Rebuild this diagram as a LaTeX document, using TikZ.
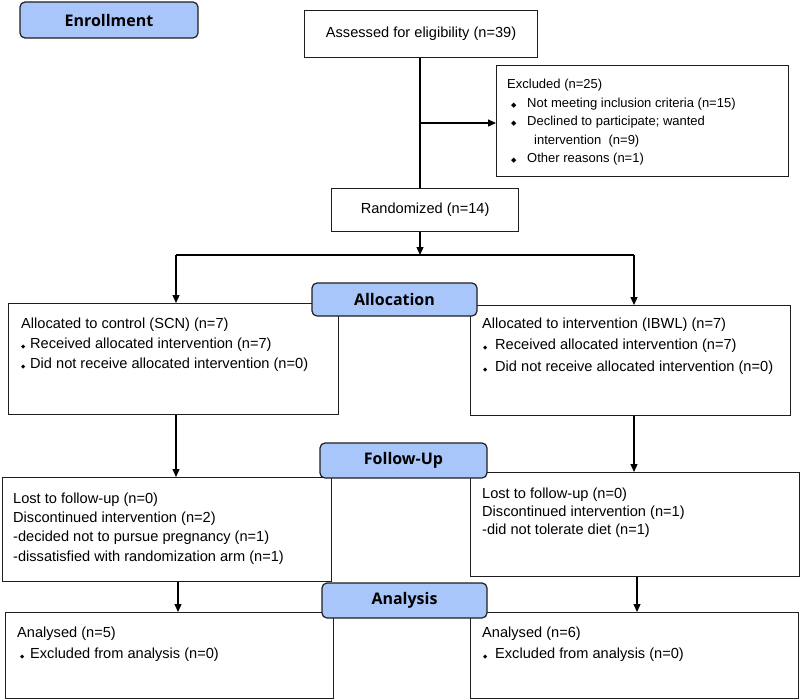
\documentclass[tikz,border=0pt]{standalone}
\usepackage{fontspec}
\setmainfont{Liberation Sans}
\newfontfamily\hdrfont{Open Sans}
\newfontfamily\symfont{DejaVu Sans}
\usetikzlibrary{arrows.meta}
\definecolor{hdrfill}{RGB}{169,198,250}
\definecolor{edge}{RGB}{30,30,30}
\newcommand\dia[1]{{\symfont\fontsize{#1}{#1}\selectfont ◆}}
\newcommand\bodysz[1]{\fontsize{14.6}{#1}\selectfont}
\begin{document}
\begin{tikzpicture}[x=1pt,y=-1pt,
  box/.style={draw=edge, line width=1.2pt, fill=white, anchor=north west, inner sep=0pt, font=\bodysz{20}},
  hdr/.style={draw=edge, line width=1.2pt, fill=hdrfill, rounded corners=5pt, inner sep=0pt, font=\hdrfont\bfseries\fontsize{16}{19}\selectfont},
  txt/.style={anchor=base west, inner sep=0pt, align=left},
  arr/.style={draw=black, line width=1.2pt, -{Triangle[length=8pt,width=7pt]}},
  conn/.style={draw=black, line width=1.2pt}]
\useasboundingbox (0,0) rectangle (800,699);

% ---------- boxes ----------
\node[box, minimum width=233pt, minimum height=47pt] (assess) at (304,10) {Assessed for eligibility (n=39)};
\node[box, minimum width=292pt, minimum height=111pt] (excl) at (496,65) {};
\node[box, minimum width=187pt, minimum height=43pt] (rand) at (331,188) {Randomized (n=14)};

\node[box, minimum width=330pt, minimum height=111pt] (allocL) at (8,303) {};
\node[box, minimum width=320pt, minimum height=110pt] (allocR) at (470,305) {};

\node[box, minimum width=329pt, minimum height=104pt] (fuL) at (2,477) {};
\node[box, minimum width=329pt, minimum height=104pt] (fuR) at (470,472) {};

\node[box, minimum width=328pt, minimum height=86pt] (anL) at (5,612) {};
\node[box, minimum width=328pt, minimum height=86pt] (anR) at (470,612) {};

% ---------- texts (anchored at the baseline of their last line) ----------
\node[txt, font=\fontsize{13}{18.6}\selectfont] (exclt) at (507,162.9)
 {Excluded (n=25)\\
  \hspace*{4pt}\makebox[16pt][l]{\dia{7}}Not meeting inclusion criteria (n=15)\\
  \hspace*{4pt}\makebox[16pt][l]{\dia{7}}Declined to participate; wanted\\
  \hspace*{27pt}intervention\ \ (n=9)\\
  \hspace*{4pt}\makebox[16pt][l]{\dia{7}}Other reasons (n=1)};

\node[txt, font=\bodysz{20}] (allocLt) at (21,368)
 {Allocated to control (SCN) (n=7)\\
  \makebox[9pt][l]{\dia{5.5}}Received allocated intervention (n=7)\\
  \makebox[9pt][l]{\dia{5.5}}Did not receive allocated intervention (n=0)};
\node[txt, font=\bodysz{21.5}] (allocRt) at (482,371)
 {Allocated to intervention (IBWL) (n=7)\\
  \hspace*{1pt}\makebox[12pt][l]{\dia{5.5}}Received allocated intervention (n=7)\\
  \hspace*{1pt}\makebox[12pt][l]{\dia{5.5}}Did not receive allocated intervention (n=0)};

\node[txt, font=\bodysz{19.3}] (fuLt) at (13,561.2)
 {Lost to follow-up (n=0)\\
  Discontinued intervention (n=2)\\
  -decided not to pursue pregnancy (n=1)\\
  -dissatisfied with randomization arm (n=1)};
\node[txt, font=\bodysz{18.3}] (fuRt) at (482,534.9)
 {Lost to follow-up (n=0)\\
  Discontinued intervention (n=1)\\
  -did not tolerate diet (n=1)};

\node[txt, font=\bodysz{21}] (anLt) at (17,658)
 {Analysed (n=5)\\
  \hspace*{3pt}\makebox[10pt][l]{\dia{5.5}}Excluded from analysis (n=0)};
\node[txt, font=\bodysz{21}] (anRt) at (482,658)
 {Analysed (n=6)\\
  \hspace*{1pt}\makebox[12pt][l]{\dia{5.5}}Excluded from analysis (n=0)};

% ---------- connectors ----------
\coordinate (split) at (420,255);
\coordinate (br) at (420,123);
\coordinate (colL) at (176,0);
\coordinate (colR) at (634,0);
\coordinate (colLb) at (178,0);
\coordinate (colRb) at (637,0);

\draw[conn] (assess.south -| split) -- (rand.north -| split);
\draw[arr] (br) -- (excl.west |- br);
\draw[arr] (rand.south -| split) -- (split);
\draw[conn] (colL |- split) -- (colR |- split);
\draw[arr] (colL |- split) -- (allocL.north -| colL);
\draw[arr] (colR |- split) -- (allocR.north -| colR);
\draw[arr] (allocL.south -| colL) -- (fuL.north -| colL);
\draw[arr] (allocR.south -| colR) -- (fuR.north -| colR);
\draw[arr] (fuL.south -| colLb) -- (anL.north -| colLb);
\draw[arr] (fuR.south -| colRb) -- (anR.north -| colRb);

% ---------- phase headers ----------
\node[hdr, minimum width=178pt, minimum height=36pt] (enr) at (109,20) {Enrollment};
\node[hdr, minimum width=165pt, minimum height=33pt] (allochdr) at (394.5,299.5) {Allocation};
\node[hdr, minimum width=167pt, minimum height=35pt] (fuhdr) at (403.5,460.5) {Follow-Up};
\node[hdr, minimum width=165pt, minimum height=35pt] (anhdr) at (404.5,600.5) {Analysis};
\end{tikzpicture}
\end{document}
